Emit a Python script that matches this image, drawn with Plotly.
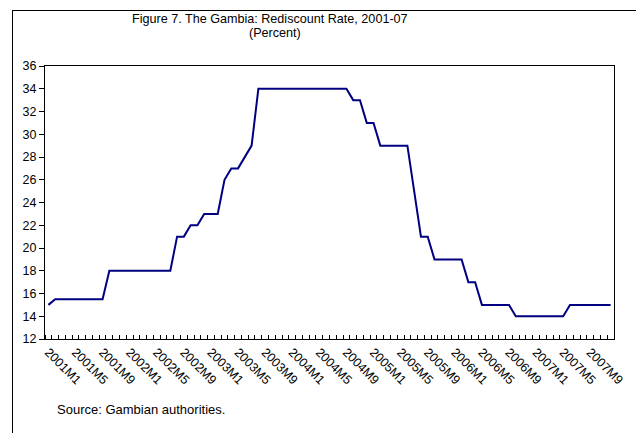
import plotly.graph_objects as go

# Monthly rediscount rate, 2001M1 - 2007M12
years = list(range(2001, 2008))
months = [f"{y}M{m}" for y in years for m in range(1, 13)]
rate = ([15.0] + [15.5] * 8 + [18] * 10 + [21] * 2 + [22] * 2 + [23] * 3 + [26] + [27] * 2 + [28] + [29]
        + [34] * 14 + [33] * 2 + [31] * 2 + [29] * 5 + [25] + [21] * 2 + [19] * 5 + [17] * 2
        + [15] * 5 + [14] * 8 + [15] * 7)
label_step = 4
tick_idx = list(range(0, len(months), label_step))
tick_text = [months[i] for i in tick_idx]

W, H = 636, 433
ML, MT = 12, 10            # outer frame corner
L, R, T, B = 45, 614, 66, 339  # plot area in pixels

def X(p):
    return (p - ML) / (W - ML)

def Y(p):
    return (H - p) / (H - MT)

fig = go.Figure()
fig.add_trace(go.Scatter(x=list(range(len(months))), y=rate, mode="lines",
                         line=dict(color="#000080", width=2), hoverinfo="skip",
                         showlegend=False))

font = "Liberation Sans, Arial, sans-serif"
fig.update_layout(
    width=W, height=H,
    margin=dict(l=ML, r=0, t=MT, b=0, autoexpand=False),
    paper_bgcolor="white", plot_bgcolor="white",
    font=dict(family=font, size=12.5, color="black"),
    xaxis=dict(domain=[X(L), X(R)], range=[-0.5, len(months) - 0.5], tickmode="array",
               tickvals=tick_idx, ticktext=tick_text, tickangle=45, ticks="", showgrid=False,
               zeroline=False, showline=True, linecolor="black", linewidth=1, mirror=True,
               automargin=False, tickfont=dict(size=12.5),
               minor=dict(tickmode="linear", tick0=-0.5, dtick=1, ticks="inside",
                          ticklen=4, tickcolor="black", showgrid=False)),
    yaxis=dict(domain=[Y(B), Y(T)], range=[12, 36], dtick=2, ticks="outside", ticklen=5,
               tickcolor="black", showgrid=False, zeroline=False, showline=True,
               linecolor="black", linewidth=1, mirror=True, automargin=False,
               tickfont=dict(size=12.5)),
    shapes=[
        dict(type="line", xref="paper", yref="paper", x0=0, x1=1,
             y0=Y(10.5), y1=Y(10.5), line=dict(color="black", width=1), layer="above"),
        dict(type="line", xref="paper", yref="paper", x0=X(12.5), x1=X(12.5),
             y0=0, y1=Y(10), line=dict(color="black", width=1), layer="above"),
    ],
    annotations=[
        dict(text="Figure 7. The Gambia: Rediscount Rate, 2001-07", xref="paper", yref="paper",
             x=X(270), y=Y(19), showarrow=False, font=dict(size=12.6),
             xanchor="center", yanchor="middle"),
        dict(text="(Percent)", xref="paper", yref="paper",
             x=X(275), y=Y(33), showarrow=False, font=dict(size=12.6),
             xanchor="center", yanchor="middle"),
        dict(text="Source: Gambian authorities.", xref="paper", yref="paper",
             x=X(55), y=Y(409), showarrow=False, font=dict(size=13),
             xanchor="left", yanchor="middle"),
    ],
)

fig.write_html("out.html", config={"displayModeBar": False},
               post_script="document.body.style.margin='0';document.body.style.overflow='hidden';")
